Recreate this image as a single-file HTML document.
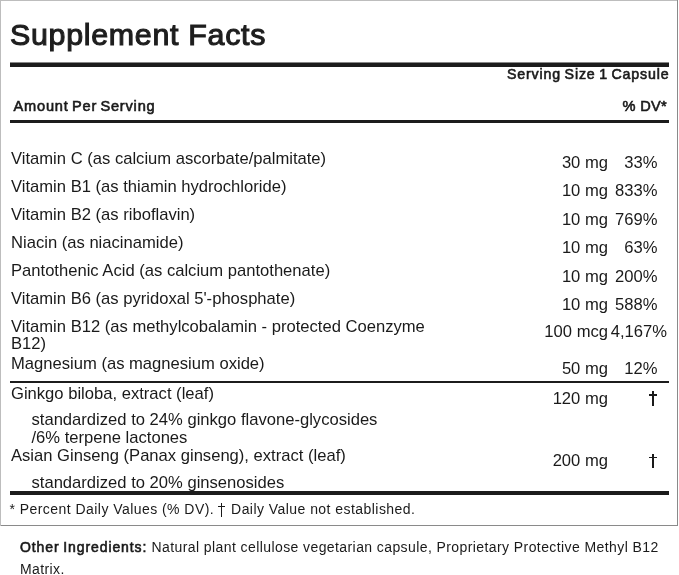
<!DOCTYPE html>
<html><head><meta charset="utf-8">
<style>
html,body{margin:0;padding:0;background:#fff;}
body{width:679px;height:575px;position:relative;overflow:hidden;font-family:"Liberation Sans",sans-serif;color:#1a1a1a;}
.bl{position:absolute;left:0;top:0;width:1px;height:526px;background:#bdbdbd;}
.bt{position:absolute;left:0;top:0;width:678px;height:1px;background:#bdbdbd;}
.br{position:absolute;left:677px;top:0;width:1px;height:526px;background:#8a8a8a;}
.bb{position:absolute;left:1px;top:525px;width:677px;height:1px;background:#8a8a8a;}
.t{position:absolute;white-space:pre;line-height:1;}
.r{text-align:right;}
.b{font-weight:bold;color:#222;}
.s{-webkit-text-stroke:0.6px #1a1a1a;}
.ln{position:absolute;background:#1c1c1c;}
.n{font-size:16.6px;}
.dg{position:absolute;background:#1a1a1a;}
</style></head><body>
<div id="w" style="position:absolute;left:0;top:0;width:679px;height:575px;will-change:transform;">
<div class="bl"></div><div class="bt"></div><div class="br"></div><div class="bb"></div>

<div class="t" style="left:10px;top:18.5px;font-size:30.4px;-webkit-text-stroke:1.1px #1e1e1e;color:#1e1e1e;letter-spacing:0.7px;">Supplement Facts</div>
<div class="ln" style="left:10px;top:62px;width:659px;height:1px;background:#888;"></div>
<div class="ln" style="left:10px;top:63px;width:659px;height:4px;"></div>
<div class="t r s" style="right:9.5px;top:67px;font-size:14.2px;letter-spacing:0.85px;word-spacing:-1.2px;">Serving Size 1 Capsule</div>
<div class="t s" style="left:13.5px;top:98.5px;font-size:14.6px;letter-spacing:0.8px;word-spacing:-1.5px;">Amount Per Serving</div>
<div class="t r s" style="right:12px;top:98.5px;font-size:14.6px;letter-spacing:0.3px;">% DV*</div>
<div class="ln" style="left:10px;top:120px;width:659px;height:3px;"></div>
<div class="t n" style="left:11px;top:151px;">Vitamin C (as calcium ascorbate/palmitate)</div>
<div class="t n r" style="right:71px;top:154.5px;">30 mg</div>
<div class="t n r" style="right:21.5px;top:154.5px;">33%</div>
<div class="t n" style="left:11px;top:179px;">Vitamin B1 (as thiamin hydrochloride)</div>
<div class="t n r" style="right:71px;top:182.5px;">10 mg</div>
<div class="t n r" style="right:21.5px;top:182.5px;">833%</div>
<div class="t n" style="left:11px;top:207px;">Vitamin B2 (as riboflavin)</div>
<div class="t n r" style="right:71px;top:211.5px;">10 mg</div>
<div class="t n r" style="right:21.5px;top:211.5px;">769%</div>
<div class="t n" style="left:11px;top:235px;">Niacin (as niacinamide)</div>
<div class="t n r" style="right:71px;top:239.5px;">10 mg</div>
<div class="t n r" style="right:21.5px;top:239.5px;">63%</div>
<div class="t n" style="left:11px;top:262.5px;">Pantothenic Acid (as calcium pantothenate)</div>
<div class="t n r" style="right:71px;top:268.5px;">10 mg</div>
<div class="t n r" style="right:21.5px;top:268.5px;">200%</div>
<div class="t n" style="left:11px;top:290.5px;">Vitamin B6 (as pyridoxal 5'-phosphate)</div>
<div class="t n r" style="right:71px;top:296.5px;">10 mg</div>
<div class="t n r" style="right:21.5px;top:296.5px;">588%</div>
<div class="t n" style="left:11px;top:318.5px;">Vitamin B12 (as methylcobalamin - protected Coenzyme</div>
<div class="t n" style="left:11px;top:335.5px;">B12)</div>
<div class="t n r" style="right:71px;top:324px;">100 mcg</div>
<div class="t n r" style="right:12px;top:324px;">4,167%</div>
<div class="t n" style="left:11px;top:355.5px;">Magnesium (as magnesium oxide)</div>
<div class="t n r" style="right:71px;top:360.5px;">50 mg</div>
<div class="t n r" style="right:21.5px;top:360.5px;">12%</div>
<div class="ln" style="left:10px;top:381px;width:659px;height:2px;"></div>
<div class="t n" style="left:11px;top:385.5px;">Ginkgo biloba, extract (leaf)</div>
<div class="t n r" style="right:71px;top:391px;">120 mg</div>
<div class="dg" style="left:652.3px;top:391px;width:1.6px;height:14.5px;"></div>
<div class="dg" style="left:649px;top:394.4px;width:8px;height:1.5px;"></div>
<div class="t n" style="left:31.5px;top:411.5px;">standardized to 24% ginkgo flavone-glycosides</div>
<div class="t n" style="left:31.5px;top:429.5px;">/6% terpene lactones</div>
<div class="t n" style="left:11px;top:448px;">Asian Ginseng (Panax ginseng), extract (leaf)</div>
<div class="t n r" style="right:71px;top:453px;">200 mg</div>
<div class="dg" style="left:652.3px;top:453.5px;width:1.6px;height:14.5px;"></div>
<div class="dg" style="left:649px;top:456.9px;width:8px;height:1.5px;"></div>
<div class="t n" style="left:31.5px;top:474.5px;">standardized to 20% ginsenosides</div>
<div class="ln" style="left:10px;top:491px;width:659px;height:4px;"></div>
<div class="t" style="left:9.5px;top:502px;font-size:14px;letter-spacing:0.45px;">* Percent Daily Values (% DV). <span style="position:relative;color:transparent;">†<i style="position:absolute;left:2.6px;top:2px;width:1.4px;height:13.5px;background:#1a1a1a;"></i><i style="position:absolute;left:0px;top:5.2px;width:6.6px;height:1.3px;background:#1a1a1a;"></i></span> Daily Value not established.</div>
<div class="t" style="left:20px;top:540px;font-size:14px;letter-spacing:0.41px;"><span class="s" style="letter-spacing:0.9px;word-spacing:-1px">Other Ingredients:</span> Natural plant cellulose vegetarian capsule, Proprietary Protective Methyl B12</div>
<div class="t" style="left:20px;top:562px;font-size:14px;letter-spacing:0.4px;">Matrix.</div>
</div></body></html>
